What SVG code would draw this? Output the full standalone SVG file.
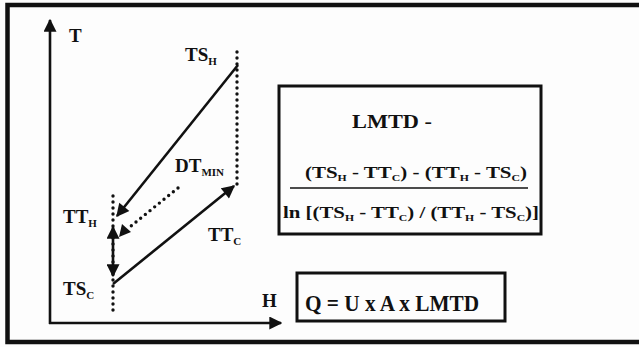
<svg xmlns="http://www.w3.org/2000/svg" width="639" height="347" viewBox="0 0 639 347">
<style>
text{font-family:"Liberation Serif","DejaVu Serif","Times New Roman",serif;font-weight:bold;fill:#111}
.lbl{font-size:19px}
.sub{font-size:11px}
.ln{stroke:#111;stroke-width:2.6;fill:none}
.dot{stroke:#111;stroke-width:3.4;fill:none;stroke-linecap:round;stroke-dasharray:0 6}
.box{stroke:#111;stroke-width:3;fill:none}
</style>
<defs>
<marker id="ah" viewBox="0 0 10 10" refX="9" refY="5" markerWidth="5.5" markerHeight="5" orient="auto-start-reverse" markerUnits="strokeWidth">
<path d="M0,0 L10,5 L0,10 z" fill="#111"/>
</marker>
<marker id="ax" viewBox="0 0 10 10" refX="9" refY="5" markerWidth="5" markerHeight="5" orient="auto" markerUnits="strokeWidth">
<path d="M0,0 L10,5 L0,10 z" fill="#111"/>
</marker>
</defs>
<rect width="639" height="347" fill="#fdfdfd"/>
<rect x="7.5" y="5" width="640" height="337" fill="none" stroke="#111" stroke-width="4.5"/>

<g id="axes">
<line x1="50" y1="324" x2="50" y2="20" class="ln" marker-end="url(#ax)"/>
<line x1="49" y1="323" x2="281" y2="323" class="ln" marker-end="url(#ax)"/>
<text x="69" y="42" class="lbl">T</text>
<text x="262" y="307" class="lbl">H</text>
</g>

<g id="connectors">
<line x1="237" y1="52" x2="237" y2="186" class="dot"/>
<line x1="113" y1="196" x2="113" y2="314" class="dot"/>
<line x1="238" y1="65" x2="117" y2="216" class="ln" marker-end="url(#ah)"/>
<line x1="113" y1="284" x2="234" y2="186" class="ln" marker-end="url(#ah)"/>
<line x1="113" y1="227" x2="113" y2="276" class="ln" marker-start="url(#ah)" marker-end="url(#ah)"/>
<line x1="178" y1="188" x2="131" y2="226" class="dot"/>
<path d="M119,237 L122,224 L131,232 z" fill="#111"/>
</g>

<g id="TS_H"><text x="185" y="61" class="lbl">TS<tspan class="sub" dy="4">H</tspan></text></g>
<g id="DT_MIN"><text x="175" y="172" class="lbl">DT<tspan class="sub" dy="4">MIN</tspan></text></g>
<g id="TT_H"><text x="63" y="223" class="lbl">TT<tspan class="sub" dy="4">H</tspan></text></g>
<g id="TT_C"><text x="208" y="241" class="lbl">TT<tspan class="sub" dy="4">C</tspan></text></g>
<g id="TS_C"><text x="63" y="295" class="lbl">TS<tspan class="sub" dy="4">C</tspan></text></g>

<g id="lmtd-box">
<rect x="279" y="86" width="262" height="148" class="box"/>
<text x="352" y="128" font-size="19" textLength="80" lengthAdjust="spacingAndGlyphs">LMTD -</text>
<text x="305" y="178" font-size="16" textLength="222" lengthAdjust="spacingAndGlyphs">(TS<tspan font-size="9" dy="3">H</tspan><tspan dy="-3"> - TT</tspan><tspan font-size="9" dy="3">C</tspan><tspan dy="-3">) - (TT</tspan><tspan font-size="9" dy="3">H</tspan><tspan dy="-3"> - TS</tspan><tspan font-size="9" dy="3">C</tspan><tspan dy="-3">)</tspan></text>
<line x1="290" y1="188" x2="528" y2="188" stroke="#111" stroke-width="1.5"/>
<text x="283" y="218" font-size="16" textLength="256" lengthAdjust="spacingAndGlyphs">ln [(TS<tspan font-size="9" dy="3">H</tspan><tspan dy="-3"> - TT</tspan><tspan font-size="9" dy="3">C</tspan><tspan dy="-3">) / (TT</tspan><tspan font-size="9" dy="3">H</tspan><tspan dy="-3"> - TS</tspan><tspan font-size="9" dy="3">C</tspan><tspan dy="-3">)]</tspan></text>
</g>

<g id="q-box">
<rect x="297" y="273" width="208" height="48" class="box"/>
<text x="305" y="311" font-size="23" textLength="174" lengthAdjust="spacingAndGlyphs">Q = U x A x LMTD</text>
</g>
</svg>
